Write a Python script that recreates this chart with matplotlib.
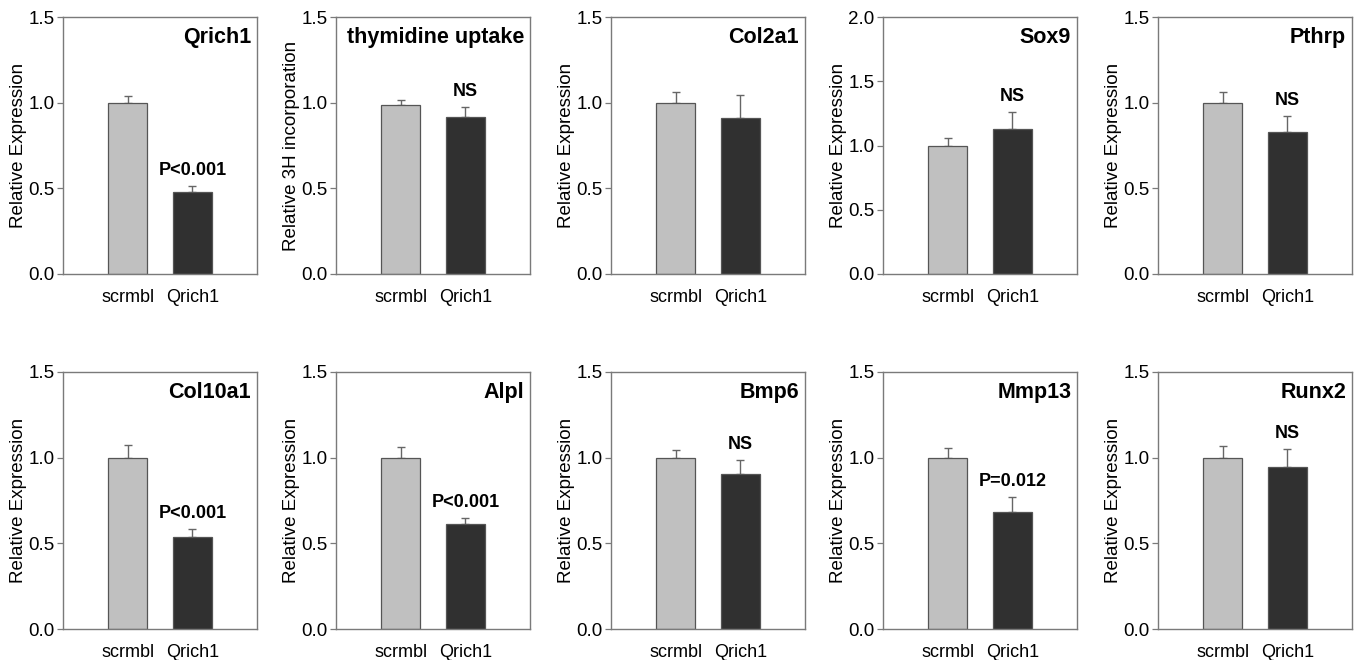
import numpy as np
import matplotlib
matplotlib.use("Agg")
import matplotlib.pyplot as plt

plt.rcParams['font.family'] = ['Liberation Sans', 'DejaVu Sans']

groups = ['scrmbl', 'Qrich1']
titles = ['Qrich1', 'thymidine uptake', 'Col2a1', 'Sox9', 'Pthrp',
          'Col10a1', 'Alpl', 'Bmp6', 'Mmp13', 'Runx2']
ylabels = ['Relative Expression', 'Relative 3H incorporation', 'Relative Expression',
           'Relative Expression', 'Relative Expression', 'Relative Expression',
           'Relative Expression', 'Relative Expression', 'Relative Expression',
           'Relative Expression']
ymax = [1.5, 1.5, 1.5, 2.0, 1.5, 1.5, 1.5, 1.5, 1.5, 1.5]

# mean values (scrmbl, Qrich1)
means_scr = [1.00, 0.985, 1.00, 1.00, 1.00, 1.00, 1.00, 1.00, 1.00, 1.00]
means_kd = [0.48, 0.915, 0.91, 1.13, 0.83, 0.535, 0.61, 0.905, 0.685, 0.945]
# upper error bars
err_scr = [0.04, 0.03, 0.06, 0.06, 0.06, 0.075, 0.065, 0.045, 0.055, 0.07]
err_kd = [0.035, 0.06, 0.135, 0.13, 0.09, 0.05, 0.04, 0.08, 0.085, 0.105]
notes = ['P<0.001', 'NS', '', 'NS', 'NS', 'P<0.001', 'P<0.001', 'NS', 'P=0.012', 'NS']

W, H = 1358, 660
fig = plt.figure(figsize=(W / 100, H / 100), dpi=100)

lefts = [63, 336, 611, 883, 1158]
row_bottoms = [274, 629]
ax_w, ax_h = 194, 257

light = '#c0c0c0'
dark = '#303030'
frame = '#7a7a7a'

for i in range(10):
    r, c = divmod(i, 5)
    ax = fig.add_axes([lefts[c] / W, (H - row_bottoms[r]) / H, ax_w / W, ax_h / H])
    x = np.array([1, 2])
    vals = [means_scr[i], means_kd[i]]
    errs = [err_scr[i], err_kd[i]]
    ax.bar(x, vals, width=0.6, color=[light, dark], edgecolor='#555555', linewidth=0.9, zorder=2)
    ax.errorbar(x, vals, yerr=[[0, 0], errs], fmt='none', ecolor='#666666',
                elinewidth=1.0, capsize=3, capthick=1.0, zorder=1)
    ax.set_xlim(0, 3)
    ax.set_ylim(0, ymax[i])
    ax.set_yticks(np.arange(0, ymax[i] + 0.01, 0.5))
    ax.yaxis.set_major_formatter(matplotlib.ticker.FormatStrFormatter('%.1f'))
    ax.set_xticks(x)
    ax.set_xticklabels(groups)
    ax.tick_params(axis='x', length=0, pad=11, labelsize=13)
    ax.tick_params(axis='y', length=4, width=0.9, color=frame, pad=2, labelsize=13.5)
    for s in ax.spines.values():
        s.set_color(frame)
        s.set_linewidth(1.0)
    ax.set_ylabel(ylabels[i], fontsize=13.5, labelpad=1)
    ax.text(0.97, 0.92, titles[i], transform=ax.transAxes, ha='right', va='center',
            fontsize=15.5, fontweight='bold')
    if notes[i]:
        ax.annotate(notes[i], xy=(2, vals[1] + errs[1]), xytext=(0, 5),
                    textcoords='offset points', ha='center', va='bottom',
                    fontsize=13, fontweight='bold')

fig.savefig('out.png', dpi=100)
